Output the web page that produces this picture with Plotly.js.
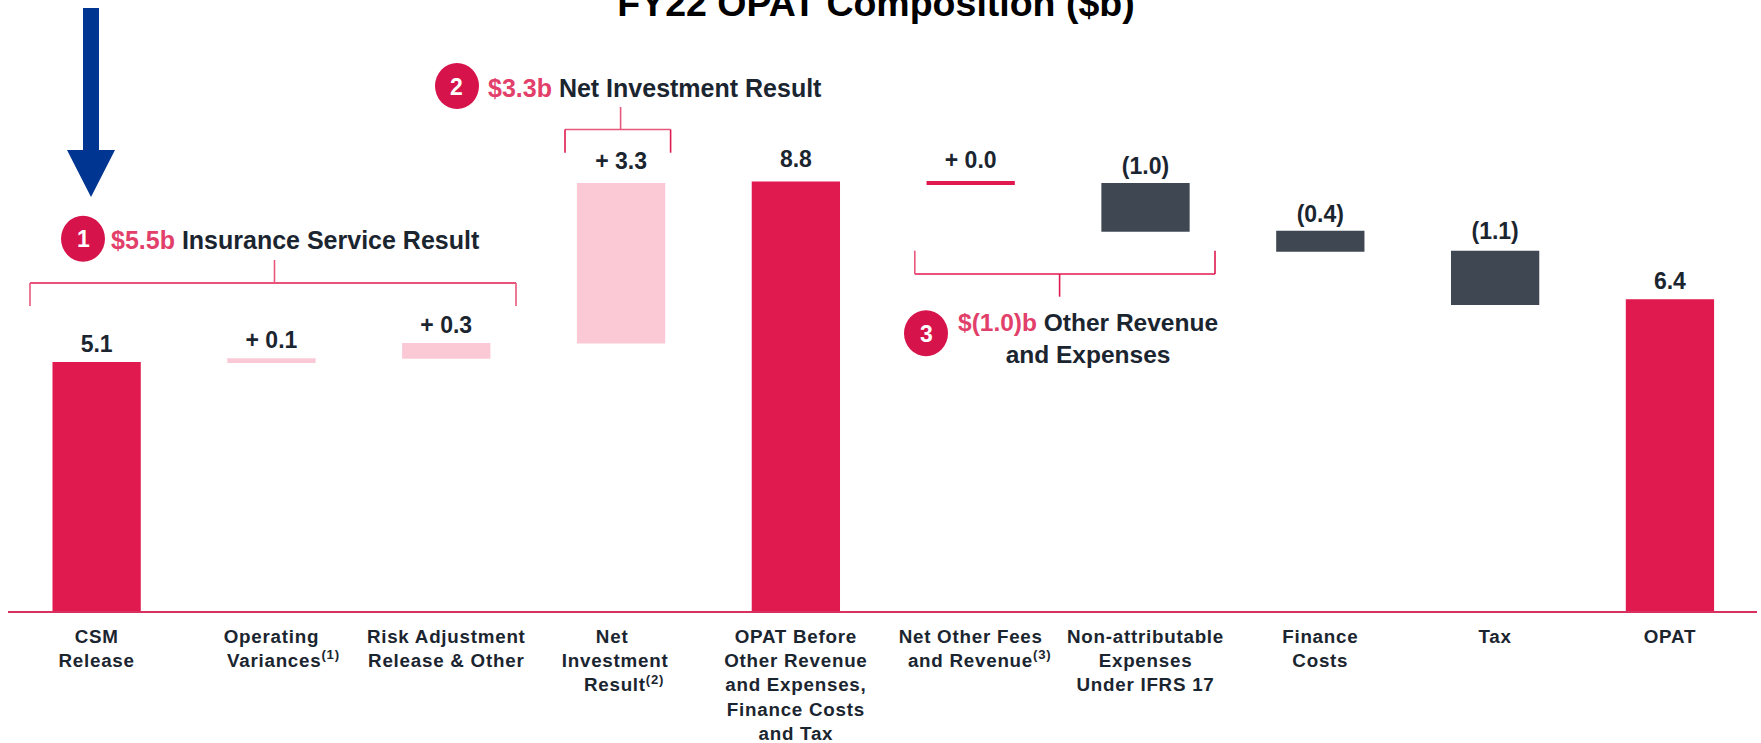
<!DOCTYPE html>
<html><head><meta charset="utf-8">
<script src="https://cdn.plot.ly/plotly-3.0.1.min.js"></script>
<style>html,body{margin:0;padding:0;background:#fff}#c{width:1761px;height:743px}</style></head>
<body><div id="c"></div>
<script>
const categories = ["CSM<br>Release","Operating<br>\u00A0\u00A0\u00A0\u00A0Variances<sup>(1)</sup>","Risk Adjustment<br>Release & Other","Net\u00A0\u00A0\u00A0<br>Investment\u00A0\u00A0<br>\u00A0Result<sup>(2)</sup>","OPAT Before<br>Other Revenue<br>and Expenses,<br>Finance Costs<br>and Tax","Net Other Fees<br>\u00A0\u00A0\u00A0and Revenue<sup>(3)</sup>","Non-attributable<br>Expenses<br>Under IFRS 17","Finance<br>Costs","Tax","OPAT"];
const barBase = [0,5.08,5.17,5.48,0,8.73,7.77,7.36,6.27,0];
const barHeight = [5.1,0.1,0.32,3.29,8.8,0.08,1.0,0.43,1.11,6.39];
const valueLabels = ["5.1","+ 0.1","+ 0.3","+ 3.3","8.8","+ 0.0","(1.0)","(0.4)","(1.1)","6.4"];
const labelLift = [0.09,0.09,0.09,0.16,0.18,0.16,0.07,0.07,0.12,0.09];
const barColors = ["#E0194F","#FBC9D6","#FBC9D6","#FBC9D6","#E0194F","#E0194F","#3F4852","#3F4852","#3F4852","#E0194F"];

const W=1761,H=743,L=8,R=1757,B=611;
const RED="#E0194F", PINK="#E23F6B", INK="#1B2530";
const fx=p=>(p-L)/(R-L), fy=p=>1-p/B;
const seg=(x0,y0,x1,y1,color)=>({type:'line',xref:'paper',yref:'paper',x0:fx(x0),y0:fy(y0),x1:fx(x1),y1:fy(y1),line:{color:color||RED,width:1.6}});
const circle=(cx,cy)=>({type:'circle',xref:'paper',yref:'paper',x0:fx(cx-22),x1:fx(cx+22),y0:fy(cy+23),y1:fy(cy-23),fillcolor:'#D7134B',line:{width:0}});
const note=(x,y,text,size,color,extra)=>Object.assign({xref:'paper',yref:'paper',x:fx(x),y:fy(y),xanchor:'center',yanchor:'middle',showarrow:false,text,align:'center',font:{family:'Liberation Sans, Arial, sans-serif',size,color,weight:700}},extra||{});
const P=(x,y)=>fx(x).toFixed(5)+','+fy(y).toFixed(5);
const arrow='M'+P(83,8)+' L'+P(99,8)+' L'+P(99,150)+' L'+P(115,150)+' L'+P(91,197)+' L'+P(67,150)+' L'+P(83,150)+' Z';

const shapes=[
 {type:'path',xref:'paper',yref:'paper',path:arrow,fillcolor:'#003591',line:{width:0}},
 seg(30,283,516,283),seg(30,283,30,306,'#E8577C'),seg(516,283,516,306,'#E8577C'),seg(274.5,260,274.5,283,'#E8577C'),
 seg(565,129.5,670.6,129.5,'#E8577C'),seg(565,129.5,565,152.7),seg(670.6,129.5,670.6,152.7),seg(620.6,107,620.6,129.5,'#E8577C'),
 seg(914.8,274,1215,274),seg(914.8,250.7,914.8,274,'#E8577C'),seg(1215,250.7,1215,274),seg(1059.6,274,1059.6,296.7),
 circle(83,238.7),circle(457,86),circle(926,333.3)
];
const annotations=[
 note(83,239,"1",23,"#fff"),note(457,87,"2",23,"#fff"),note(926,334,"3",23,"#fff"),
 note(295,240,'<span style="color:'+PINK+'">$5.5b</span> Insurance Service Result',25,INK),
 note(655,88,'<span style="color:'+PINK+'">$3.3b</span> Net Investment Result',25,INK),
 note(1087.5,338,'<span style="color:'+PINK+'">$(1.0)b</span> Other Revenue<br>and Expenses',24.5,INK)
];
const labelY=barBase.map((b,i)=>b+barHeight[i]+labelLift[i]);
Plotly.newPlot('c',[
 {type:'bar',x:categories,y:barHeight,base:barBase,width:0.505,marker:{color:barColors,line:{width:0}},hoverinfo:'skip',showlegend:false},
 {type:'scatter',mode:'text',x:categories,y:labelY,text:valueLabels,textposition:'top center',textfont:{family:'Liberation Sans, Arial, sans-serif',size:23,color:INK,weight:700},hoverinfo:'skip',showlegend:false}
],{
 width:W,height:H,margin:{l:L,r:W-R,t:0,b:H-B,pad:0},paper_bgcolor:'#fff',plot_bgcolor:'#fff',
 title:{text:'<b>FY22 OPAT Composition ($b)</b>',x:876/W,xanchor:'center',y:0.996,yanchor:'middle',font:{family:'Liberation Sans, Arial, sans-serif',size:37.5,color:'#000'}},
 xaxis:{type:'category',range:[-0.507,9.498],showgrid:false,zeroline:false,showline:true,linecolor:'#D9305F',linewidth:2,ticks:'outside',ticklen:7,tickcolor:'rgba(0,0,0,0)',tickangle:0,tickfont:{family:'Liberation Sans, Arial, sans-serif',size:18.8,color:INK,weight:700},automargin:false},
 yaxis:{range:[0,B/48.8],visible:false,fixedrange:true},
 shapes,annotations,showlegend:false
},{displayModeBar:false,staticPlot:true}).then(()=>{
 document.querySelectorAll('.xtick text').forEach(t=>{t.style.letterSpacing='0.75px';});
});
</script></body></html>
